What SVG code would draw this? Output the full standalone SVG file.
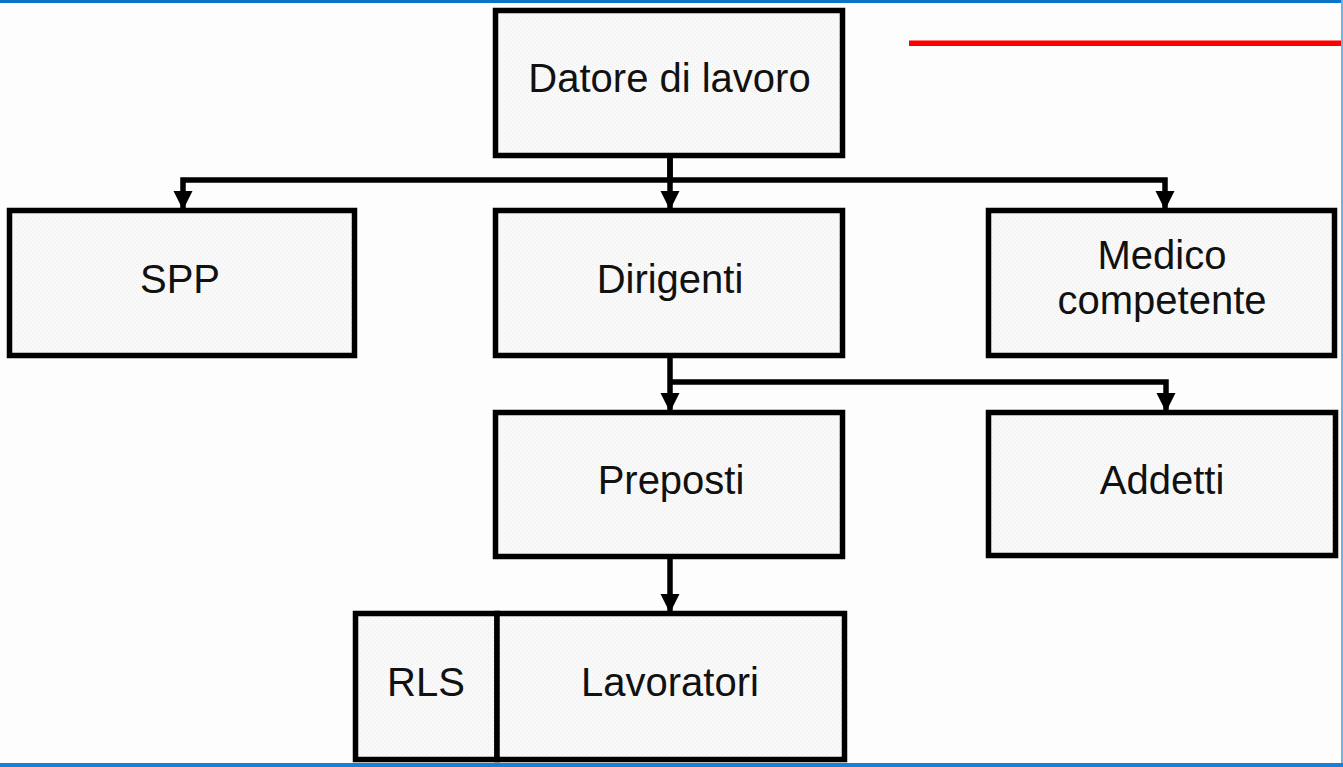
<svg xmlns="http://www.w3.org/2000/svg" width="1343" height="767" viewBox="0 0 1343 767">
  <defs>
    <pattern id="dots" width="4" height="4" patternUnits="userSpaceOnUse">
      <rect width="4" height="4" fill="#f9f9f9"/>
      <rect x="0" y="0" width="1" height="1" fill="#ebebeb"/>
      <rect x="2" y="2" width="1" height="1" fill="#ebebeb"/>
    </pattern>
    <marker id="arrow" markerUnits="userSpaceOnUse" markerWidth="20" markerHeight="20" refX="18" refY="9.5" orient="auto">
      <path d="M0,0 L19,9.5 L0,19 z" fill="#000"/>
    </marker>
    <style>
      .box { fill: url(#dots); stroke: #000; stroke-width: 5.5; }
      .lbl { font-family: "Liberation Sans", Arial, sans-serif; font-size: 40px; fill: #111; text-anchor: middle; }
      .conn { fill: none; stroke: #000; stroke-width: 5.5; stroke-linejoin: miter; }
    </style>
  </defs>

  <rect width="1343" height="767" fill="#fdfdfd"/>

  <!-- frame -->
  <rect x="0" y="0" width="1343" height="3" fill="#0a74c8"/>
  <rect x="1341" y="0" width="2" height="767" fill="#6cb4e4"/>
  <rect x="0" y="763" width="1343" height="4" fill="#1a80d6"/>

  <!-- red line -->
  <rect x="909" y="40.5" width="432" height="5.5" fill="#ff0000"/>

  <g id="connectors">
    <path class="conn" d="M670,158 V180 H183 V209" marker-end="url(#arrow)"/>
    <path class="conn" d="M670,158 V209" marker-end="url(#arrow)"/>
    <path class="conn" d="M670,180 H1165 V209" marker-end="url(#arrow)"/>
    <path class="conn" d="M670,358 V411" marker-end="url(#arrow)"/>
    <path class="conn" d="M670,382 H1166 V411" marker-end="url(#arrow)"/>
    <path class="conn" d="M670,559 V612" marker-end="url(#arrow)"/>
  </g>

  <g id="datore">
    <rect class="box" x="495.5" y="10.5" width="347" height="145"/>
    <text class="lbl" x="669.5" y="92">Datore di lavoro</text>
  </g>

  <g id="spp">
    <rect class="box" x="9.5" y="210.5" width="345" height="145"/>
    <text class="lbl" x="180" y="293">SPP</text>
  </g>

  <g id="dirigenti">
    <rect class="box" x="495.5" y="210.5" width="347" height="145"/>
    <text class="lbl" x="670" y="293">Dirigenti</text>
  </g>

  <g id="medico">
    <rect class="box" x="988.5" y="210.5" width="346" height="145"/>
    <text class="lbl" x="1162" y="269">Medico</text>
    <text class="lbl" x="1162" y="314">competente</text>
  </g>

  <g id="preposti">
    <rect class="box" x="495.5" y="412.5" width="347" height="144"/>
    <text class="lbl" x="671" y="494">Preposti</text>
  </g>

  <g id="addetti">
    <rect class="box" x="988.5" y="412.5" width="347" height="143"/>
    <text class="lbl" x="1162" y="494">Addetti</text>
  </g>

  <g id="rls">
    <rect class="box" x="355.5" y="613.5" width="141.5" height="146"/>
    <text class="lbl" x="426" y="696">RLS</text>
  </g>

  <g id="lavoratori">
    <rect class="box" x="497" y="613.5" width="347.5" height="146"/>
    <text class="lbl" x="670" y="696">Lavoratori</text>
  </g>
</svg>
